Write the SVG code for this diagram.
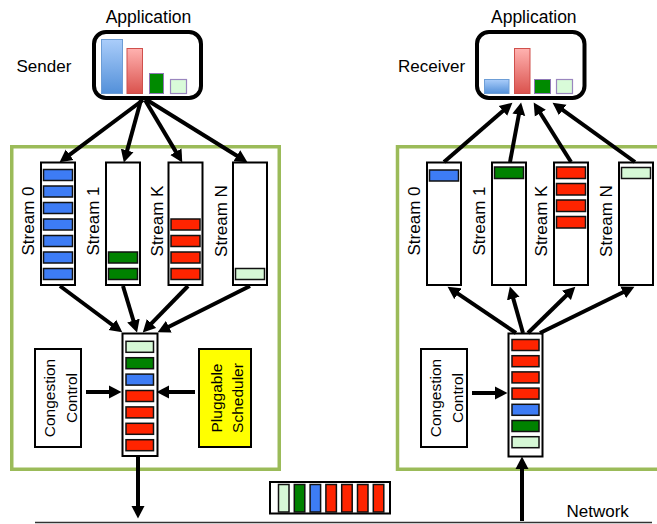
<svg xmlns="http://www.w3.org/2000/svg" width="657" height="524" viewBox="0 0 657 524">
<defs>
  <linearGradient id="gBlue" x1="0" y1="0" x2="0" y2="1">
    <stop offset="0" stop-color="#AACDFA"/>
    <stop offset="1" stop-color="#5390D9"/>
  </linearGradient>
  <linearGradient id="gRed" x1="0" y1="0" x2="0" y2="1">
    <stop offset="0" stop-color="#FFB2B0"/>
    <stop offset="1" stop-color="#DA524D"/>
  </linearGradient>
  <marker id="ah" viewBox="0 -7 13 14" refX="1" refY="0" markerWidth="13" markerHeight="14" markerUnits="userSpaceOnUse" orient="auto">
    <path d="M0,-6.5 L12.5,0 L0,6.5 z" fill="#000"/>
  </marker>
  <style>
    text { font-family: "Liberation Sans", Arial, sans-serif; fill: #000; }
    .lbl { font-size: 17px; }
    .box { font-size: 15.5px; text-anchor: middle; }
    .stl { font-size: 17px; text-anchor: middle; }
    .frame { fill: #fff; stroke: #9BBB59; stroke-width: 3.5; }
    .app { fill: #fff; stroke: #000; stroke-width: 4; }
    .col { fill: #fff; stroke: #000; stroke-width: 2; }
    .pk { stroke: #111; stroke-width: 1.5; }
    .b { fill: #3D7CF5; }
    .r { fill: #FF2400; }
    .g { fill: #008200; }
    .lg { fill: #D6F8D6; }
    .cc { fill: #fff; stroke: #000; stroke-width: 2; }
    .conn line { stroke: #000; stroke-width: 4; marker-end: url(#ah); }
  </style>
</defs>
<rect width="657" height="524" fill="#fff"/>

<g id="sender-frame"><rect class="frame" x="11.75" y="146.75" width="267.5" height="322.5"/></g>
<g id="receiver-frame"><rect class="frame" x="397.5" y="146.75" width="300" height="322.5"/></g>

<g id="sender-app">
  <text class="lbl" x="148.5" y="23.3" text-anchor="middle" style="font-size:17.5px">Application</text>
  <text class="lbl" x="16.5" y="71.5">Sender</text>
  <rect class="app" x="94" y="32" width="107" height="66" rx="12"/>
  <rect x="101.5" y="39.5" width="21" height="54" fill="url(#gBlue)" stroke="#6C9DD6" stroke-width="1"/>
  <rect x="127" y="48.5" width="15.5" height="45" fill="url(#gRed)" stroke="#D0504C" stroke-width="1"/>
  <rect x="149.5" y="73.5" width="14" height="20" fill="#008A00" stroke="#8E78B5" stroke-width="1"/>
  <rect x="170.5" y="79.5" width="16" height="14" fill="#D9FBD9" stroke="#9A86BE" stroke-width="1.2"/>
</g>

<g id="receiver-app">
  <text class="lbl" x="533.8" y="23.3" text-anchor="middle" style="font-size:17.5px">Application</text>
  <text class="lbl" x="398" y="71.5">Receiver</text>
  <rect class="app" x="477" y="32" width="107.5" height="66" rx="12"/>
  <rect x="484.5" y="79.5" width="24.5" height="14" fill="url(#gBlue)" stroke="#6C9DD6" stroke-width="1"/>
  <rect x="514.5" y="48.5" width="15.5" height="45" fill="url(#gRed)" stroke="#D0504C" stroke-width="1"/>
  <rect x="534.5" y="79.5" width="16" height="14" fill="#008A00" stroke="#8E78B5" stroke-width="1"/>
  <rect x="556.5" y="79.5" width="16" height="14" fill="#D9FBD9" stroke="#9A86BE" stroke-width="1.2"/>
</g>

<!-- sender streams -->
<g id="s-stream0">
  <text class="stl" x="33.5" y="221" transform="rotate(-90 33.5 221)">Stream 0</text>
  <rect class="col" x="41" y="162.5" width="34" height="122.5"/>
  <rect class="pk b" x="43.5" y="169.5" width="29" height="11"/>
  <rect class="pk b" x="43.5" y="186" width="29" height="11"/>
  <rect class="pk b" x="43.5" y="202.5" width="29" height="11"/>
  <rect class="pk b" x="43.5" y="219" width="29" height="11"/>
  <rect class="pk b" x="43.5" y="235.5" width="29" height="11"/>
  <rect class="pk b" x="43.5" y="252" width="29" height="11"/>
  <rect class="pk b" x="43.5" y="268.5" width="29" height="11"/>
</g>
<g id="s-stream1">
  <text class="stl" x="99" y="221" transform="rotate(-90 99 221)">Stream 1</text>
  <rect class="col" x="106" y="162.5" width="34" height="122.5"/>
  <rect class="pk g" x="108.5" y="252" width="29" height="11"/>
  <rect class="pk g" x="108.5" y="268.5" width="29" height="11"/>
</g>
<g id="s-streamK">
  <text class="stl" x="162.5" y="221" transform="rotate(-90 162.5 221)">Stream K</text>
  <rect class="col" x="168.5" y="162.5" width="34" height="122.5"/>
  <rect class="pk r" x="171" y="219" width="29" height="11"/>
  <rect class="pk r" x="171" y="235.5" width="29" height="11"/>
  <rect class="pk r" x="171" y="252" width="29" height="11"/>
  <rect class="pk r" x="171" y="268.5" width="29" height="11"/>
</g>
<g id="s-streamN">
  <text class="stl" x="227" y="221" transform="rotate(-90 227 221)">Stream N</text>
  <rect class="col" x="233" y="162.5" width="34" height="122.5"/>
  <rect class="pk lg" x="235.5" y="268.5" width="29" height="11"/>
</g>

<!-- sender queue -->
<g id="s-queue">
  <rect class="col" x="122.5" y="333.5" width="35" height="122.5"/>
  <rect class="pk lg" x="126" y="341.3" width="27.5" height="11"/>
  <rect class="pk g" x="126" y="357.7" width="27.5" height="11"/>
  <rect class="pk b" x="126" y="374.1" width="27.5" height="11"/>
  <rect class="pk r" x="126" y="390.5" width="27.5" height="11"/>
  <rect class="pk r" x="126" y="406.9" width="27.5" height="11"/>
  <rect class="pk r" x="126" y="423.3" width="27.5" height="11"/>
  <rect class="pk r" x="126" y="439.7" width="27.5" height="11"/>
</g>

<g id="s-congestion">
  <rect class="cc" x="35" y="349" width="46" height="98"/>
  <text class="box" x="55" y="398" transform="rotate(-90 55 398)">Congestion</text>
  <text class="box" x="76.5" y="398" transform="rotate(-90 76.5 398)">Control</text>
</g>
<g id="s-scheduler">
  <rect x="199" y="349" width="52" height="98" fill="#FFFF00" stroke="#000" stroke-width="2"/>
  <text class="box" x="221.5" y="398" transform="rotate(-90 221.5 398)">Pluggable</text>
  <text class="box" x="243" y="398" transform="rotate(-90 243 398)">Scheduler</text>
</g>

<!-- receiver streams -->
<g id="r-stream0">
  <text class="stl" x="420" y="221" transform="rotate(-90 420 221)">Stream 0</text>
  <rect class="col" x="427" y="162.5" width="34" height="122.5"/>
  <rect class="pk b" x="429.5" y="170" width="29" height="11"/>
</g>
<g id="r-stream1">
  <text class="stl" x="485" y="221" transform="rotate(-90 485 221)">Stream 1</text>
  <rect class="col" x="492" y="162.5" width="34" height="122.5"/>
  <rect class="pk g" x="494.5" y="167" width="29" height="11.5"/>
</g>
<g id="r-streamK">
  <text class="stl" x="547" y="221" transform="rotate(-90 547 221)">Stream K</text>
  <rect class="col" x="554" y="162.5" width="34" height="122.5"/>
  <rect class="pk r" x="556.5" y="167" width="29" height="11.5"/>
  <rect class="pk r" x="556.5" y="183.5" width="29" height="11.5"/>
  <rect class="pk r" x="556.5" y="200" width="29" height="11.5"/>
  <rect class="pk r" x="556.5" y="216.5" width="29" height="11.5"/>
</g>
<g id="r-streamN">
  <text class="stl" x="611.5" y="221" transform="rotate(-90 611.5 221)">Stream N</text>
  <rect class="col" x="619" y="162.5" width="34" height="122.5"/>
  <rect class="pk lg" x="621.5" y="167.5" width="29" height="11"/>
</g>

<!-- receiver queue -->
<g id="r-queue">
  <rect class="col" x="508.5" y="333.5" width="34" height="123"/>
  <rect class="pk r" x="512" y="339.5" width="27" height="11"/>
  <rect class="pk r" x="512" y="355.7" width="27" height="11"/>
  <rect class="pk r" x="512" y="371.9" width="27" height="11"/>
  <rect class="pk r" x="512" y="388.1" width="27" height="11"/>
  <rect class="pk b" x="512" y="404.3" width="27" height="11"/>
  <rect class="pk g" x="512" y="420.5" width="27" height="11"/>
  <rect class="pk lg" x="512" y="436.7" width="27" height="11"/>
</g>
<g id="r-congestion">
  <rect class="cc" x="421" y="349" width="46" height="98"/>
  <text class="box" x="441" y="398" transform="rotate(-90 441 398)">Congestion</text>
  <text class="box" x="462.5" y="398" transform="rotate(-90 462.5 398)">Control</text>
</g>

<!-- packets on the wire -->
<g id="wire-packets">
  <rect x="270" y="482" width="120" height="31.5" fill="#fff" stroke="#000" stroke-width="2"/>
  <rect class="pk lg" x="278.5" y="484.5" width="10.5" height="27.5"/>
  <rect class="pk g" x="294.3" y="484.5" width="10.5" height="27.5"/>
  <rect class="pk b" x="310.1" y="484.5" width="10.5" height="27.5"/>
  <rect class="pk r" x="325.9" y="484.5" width="10.5" height="27.5"/>
  <rect class="pk r" x="341.7" y="484.5" width="10.5" height="27.5"/>
  <rect class="pk r" x="357.5" y="484.5" width="10.5" height="27.5"/>
  <rect class="pk r" x="373.3" y="484.5" width="10.5" height="27.5"/>
</g>

<g id="network">
  <line x1="35" y1="522.5" x2="652" y2="522.5" stroke="#333" stroke-width="1.5"/>
  <text class="lbl" x="566.5" y="516.7">Network</text>
</g>

<g id="connectors" class="conn">
  <!-- sender app to streams -->
  <line x1="143" y1="100" x2="68.8" y2="155.4"/>
  <line x1="141" y1="100" x2="126.9" y2="151.4"/>
  <line x1="145" y1="100" x2="176.4" y2="152.6"/>
  <line x1="147" y1="100" x2="237.7" y2="156.2"/>
  <!-- sender streams to queue -->
  <line x1="60" y1="286" x2="113.1" y2="325.5"/>
  <line x1="123" y1="286" x2="133.7" y2="321.5"/>
  <line x1="188" y1="286" x2="150.8" y2="324.2"/>
  <line x1="250" y1="286" x2="167.9" y2="327.2"/>
  <!-- cc & scheduler -->
  <line x1="86" y1="392" x2="110" y2="392"/>
  <line x1="195" y1="392" x2="168" y2="392"/>
  <!-- sender queue down -->
  <line x1="138" y1="457" x2="138" y2="507"/>
  <!-- receiver network up -->
  <line x1="522" y1="521" x2="522" y2="468"/>
  <line x1="472" y1="393" x2="496" y2="393"/>
  <!-- receiver queue to streams -->
  <line x1="516" y1="333" x2="457.1" y2="293.2"/>
  <line x1="523" y1="333" x2="513" y2="297.6"/>
  <line x1="528" y1="333" x2="567.1" y2="294.7"/>
  <line x1="540" y1="333" x2="624.1" y2="291.8"/>
  <!-- receiver streams to app -->
  <line x1="444" y1="162" x2="503.7" y2="110.2"/>
  <line x1="510" y1="162" x2="519" y2="113.8"/>
  <line x1="571" y1="162" x2="539.8" y2="112.3"/>
  <line x1="635" y1="162" x2="561.9" y2="109.4"/>
</g>
</svg>
